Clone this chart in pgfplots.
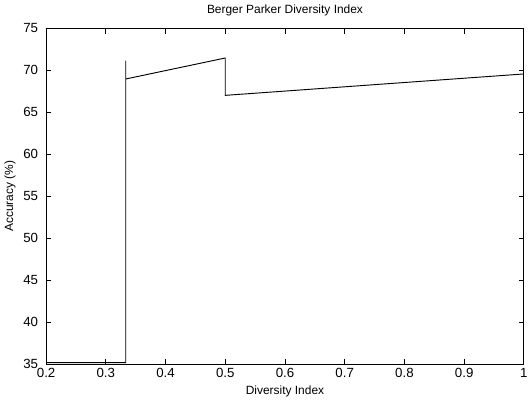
\documentclass[border=0pt]{standalone}
\usepackage{fontspec}
\setmainfont{Liberation Sans}
\usepackage{pgfplots}
\pgfplotsset{compat=1.18}

\begin{document}
\begin{tikzpicture}
\begin{axis}[
  scale only axis,
  width=360pt,
  height=253pt,
  xmin=0.2,xmax=1,
  ymin=35,ymax=75,
  xtick={0.2,0.3,0.4,0.5,0.6,0.7,0.8,0.9,1},
  xticklabels={0.2,0.3,0.4,0.5,0.6,0.7,0.8,0.9,1},
  ytick={35,40,45,50,55,60,65,70,75},
  tick align=inside,
  major tick length=4pt,
  tick style={black,line width=0.6pt},
  axis line style={line width=0.6pt},
  ticklabel style={font=\fontsize{10}{11}\selectfont},
  yticklabel style={xshift=-2.5pt},
  /pgf/number format/assume math mode=true,
  xlabel={Diversity Index},
  ylabel={Accuracy (\%)},
  label style={font=\fontsize{9}{10}\selectfont},
  xlabel style={yshift=1pt},
  ylabel style={yshift=-1pt},
  title={Berger Parker Diversity Index},
  title style={font=\fontsize{9}{10}\selectfont,yshift=0pt},
  clip=false
]
\addplot[black,line width=0.7pt] coordinates {
  (0.2,35.15) (0.3333,35.15) (0.3333,71.15) (0.3333,68.95)
  (0.5,71.45) (0.5,67.0) (1,69.55)
};
\end{axis}
\end{tikzpicture}
\end{document}
